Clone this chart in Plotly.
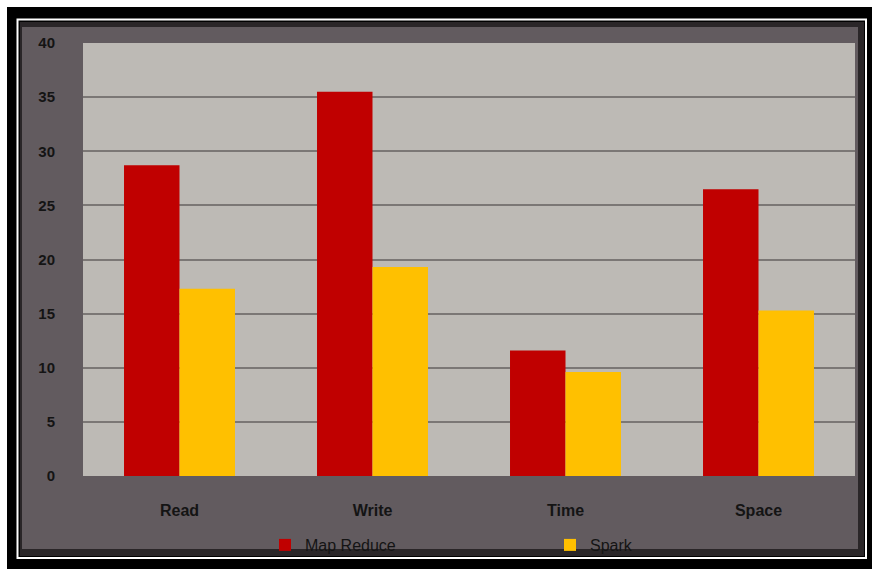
import plotly.graph_objects as go

categories = ["Read", "Write", "Time", "Space"]
map_reduce = [28.7, 35.5, 11.6, 26.5]
spark = [17.3, 19.3, 9.6, 15.3]
y_ticks = [0, 5, 10, 15, 20, 25, 30, 35, 40]

W, H = 872, 569
L, R, T, B = 83, 17, 43, 93
pw, ph = W - L - R, H - T - B

def px(x):
    return (x - L) / pw

def py(y):
    return (H - B - y) / ph

fig = go.Figure()
fig.add_trace(go.Bar(x=categories, y=map_reduce, name="Map Reduce",
                     marker=dict(color="#c00000", line=dict(width=0))))
fig.add_trace(go.Bar(x=categories, y=spark, name="Spark",
                     marker=dict(color="#ffc000", line=dict(width=0))))

shapes = [
    # black frame
    dict(type="rect", xref="paper", yref="paper", x0=px(7), x1=px(W + 2), y0=py(7), y1=py(H + 2),
         fillcolor="black", line=dict(width=0), layer="below"),
    # white thin line
    dict(type="rect", xref="paper", yref="paper", x0=px(17.5), x1=px(866), y0=py(19.5), y1=py(558),
         fillcolor="rgba(0,0,0,0)", line=dict(color="white", width=2), layer="below"),
    # dark panel edge
    dict(type="rect", xref="paper", yref="paper", x0=px(20), x1=px(864), y0=py(22), y1=py(556),
         fillcolor="#2a2628", line=dict(width=0), layer="below"),
    # panel
    dict(type="rect", xref="paper", yref="paper", x0=px(22), x1=px(858), y0=py(27), y1=py(549),
         fillcolor="#625b5f", line=dict(width=0), layer="below"),
    # plot area
    dict(type="rect", xref="paper", yref="paper", x0=0, x1=1, y0=0, y1=1,
         fillcolor="#bdbab5", line=dict(width=0), layer="below"),
]

fig.update_layout(
    width=W, height=H,
    margin=dict(l=L, r=R, t=T, b=B, pad=0, autoexpand=False),
    paper_bgcolor="white",
    plot_bgcolor="rgba(0,0,0,0)",
    barmode="group",
    bargap=0.425,
    bargroupgap=0,
    shapes=shapes,
    font=dict(family="Liberation Sans, Arial, sans-serif", color="#141414"),
    xaxis=dict(showgrid=False, showline=False, ticks="",
               tickfont=dict(size=16, family="Liberation Sans, Arial", color="#141414", weight="bold"),
               ticklabelstandoff=23),
    yaxis=dict(range=[0, 40], tickvals=y_ticks, showgrid=True, gridcolor="#7b7775", gridwidth=2,
               zeroline=False, showline=False, ticks="",
               tickfont=dict(size=15, family="Liberation Sans, Arial", color="#141414", weight="bold"),
               ticklabelstandoff=27),
    legend=dict(orientation="h", x=px(265), y=py(545), xanchor="left", yanchor="middle",
                bgcolor="rgba(0,0,0,0)", font=dict(size=16, color="#141414"),
                itemwidth=30,
                entrywidth=240, entrywidthmode="pixels", traceorder="normal"),
    showlegend=True,
)

fig.write_html("out.html")
